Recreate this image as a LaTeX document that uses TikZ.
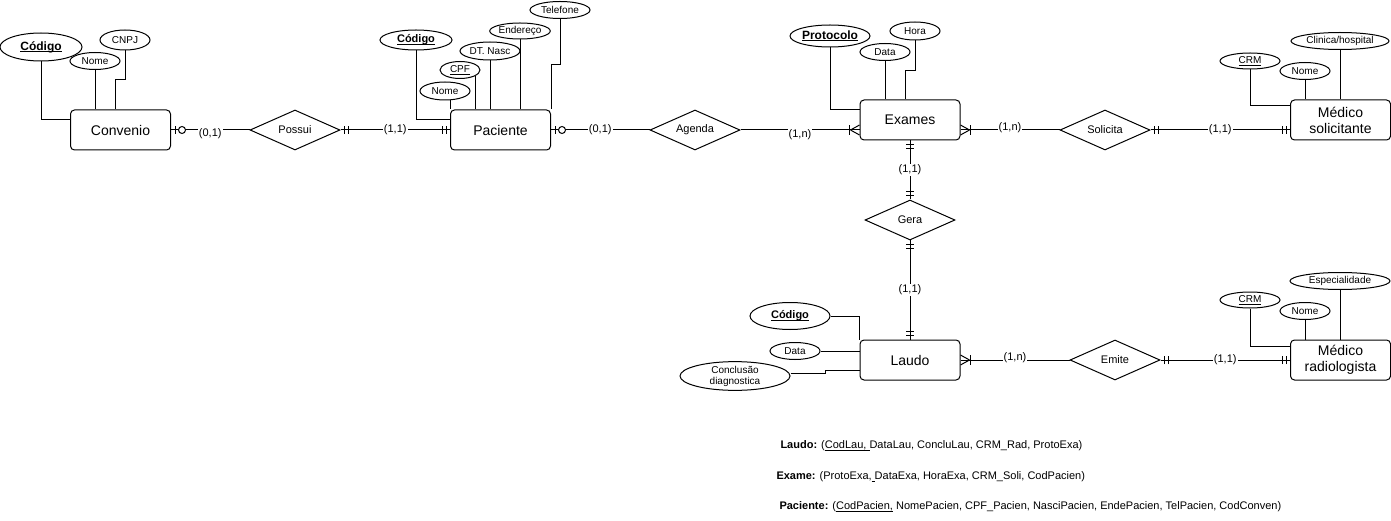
\documentclass[tikz,border=0pt]{standalone}
\usepackage{fontspec}
\setmainfont{Liberation Sans}
\usepackage{tikz}
\usetikzlibrary{shapes.geometric}
\usetikzlibrary{decorations.markings}
\newsavebox{\ulbox}
\newcommand{\undl}[1]{\sbox{\ulbox}{#1}\rlap{\rule[-1.6pt]{\wd\ulbox}{0.7pt}}\usebox{\ulbox}}
\tikzset{
%%%%%%%%%%  Node styles
entity/.style={draw, rectangle, rounded corners=4pt, minimum width=100pt,
               minimum height=40pt, align=center, inner sep=1pt,
               font=\fontsize{14}{16}\selectfont},
relation/.style={draw, diamond, aspect=2.25, minimum width=90pt,
                 minimum height=40pt, inner sep=0pt,
                 font=\fontsize{11}{13}\selectfont},
attribute/.style args={#1,#2}{draw, ellipse, fill=white, inner sep=0pt,
                 minimum width=#1pt, minimum height=#2pt, align=center,
                 font=\fontsize{10}{11}\selectfont},
key_attr/.style={font=\fontsize{#1}{14}\selectfont\bfseries},
key_attr/.default=12,
card/.style={fill=white, inner sep=1pt, font=\fontsize{11}{13}\selectfont},
tuple/.style={anchor=west, inner sep=0pt, font=\fontsize{11}{13}\selectfont},
%%%%%%% ER end markers
one_one_start/.style={postaction={decorate},
                 decoration={markings,
                    mark=at position 4pt with {\draw (0,-4pt) -- (0,4pt);},
                    mark=at position 8pt with {\draw (0,-4pt) -- (0,4pt);},
                 }},
one_one_end/.style={postaction={decorate,
                 decoration={markings,
                    mark=at position -4pt with {\draw (0,-4pt) -- (0,4pt);},
                    mark=at position -8pt with {\draw (0,-4pt) -- (0,4pt);},
                 }}},
zero_one_start/.style={postaction={decorate,
                 decoration={markings,
                    mark=at position 4pt with {\draw (0,-4pt) -- (0,4pt);},
                    mark=at position 11pt with {\draw[fill=white] (0,0) circle (3.5pt);},
                 }}},
%% crow foot, one or many
one_many_start/.style={postaction={decorate,
                 decoration={markings,
                    mark=at position 10pt with {\draw (0,-5pt) -- (0,5pt);
                       \draw (-1pt,0) -- (-10pt,5pt) (-1pt,0) -- (-10pt,-5pt);},
                 }}},
one_many_end/.style={postaction={decorate,
                 decoration={markings,
                    mark=at position -10pt with {\draw (0,-5pt) -- (0,5pt);
                       \draw (1pt,0) -- (10pt,5pt) (1pt,0) -- (10pt,-5pt);},
                 }}}
}

\begin{document}
\begin{tikzpicture}[x=1pt, y=-1pt, line width=1pt]
\useasboundingbox (0,0) rectangle (1391,521);

% entities
\node[entity] (conv) at (120.5,130) {Convenio};
\node[entity] (pac) at (500.5,130) {Paciente};
\node[entity] (exa) at (910,120) {Exames};
\node[entity] (med_sol) at (1340.5,120) {Médico\\solicitante};
\node[entity] (laudo) at (910,360) {Laudo};
\node[entity] (med_rad) at (1340.5,360) {Médico\\radiologista};

% relations
\node[relation] (possui) at (295,130) {Possui};
\node[relation] (agenda) at (695,130) {Agenda};
\node[relation] (solicita) at (1105,130) {Solicita};
\node[relation] (gera) at (910,220) {Gera};
\node[relation] (emite) at (1115,360) {Emite};

% attributes
\node[attribute={82,28}, key_attr] (conv_cod) at (41,47) {\undl{Código}};
\node[attribute={50,17}] (conv_nome) at (95,61) {Nome};
\node[attribute={50,20}] (conv_cnpj) at (125,40) {CNPJ};

\node[attribute={72,20}, key_attr=11] (pac_cod) at (416,40) {\undl{Código}};
\node[attribute={50,18}] (pac_nome) at (445,91) {Nome};
\node[attribute={40,17}] (pac_cpf) at (460,70) {\undl{CPF}};
\node[attribute={60,18}] (pac_dt) at (490,51) {DT. Nasc};
\node[attribute={60,16}] (pac_end) at (520,31) {Endereço};
\node[attribute={60,17}] (pac_tel) at (560,10) {Telefone};

\node[attribute={80,22}, key_attr] (exa_prot) at (830,36) {\undl{Protocolo}};
\node[attribute={50,17}] (exa_data) at (885,52) {Data};
\node[attribute={50,18}] (exa_hora) at (915,31) {Hora};

\node[attribute={60,16}] (sol_crm) at (1250,61) {\undl{CRM}};
\node[attribute={50,17}] (sol_nome) at (1305,71) {Nome};
\node[attribute={98,17}] (sol_clin) at (1340,41) {Clinica/hospital};

\node[attribute={60,16}] (rad_crm) at (1250,300) {\undl{CRM}};
\node[attribute={50,17}] (rad_nome) at (1305,311) {Nome};
\node[attribute={100,17}] (rad_esp) at (1340,281) {Especialidade};

\node[attribute={80,27}, key_attr=11] (lau_cod) at (790,316) {\undl{Código}};
\node[attribute={50,17}] (lau_data) at (795,351) {Data};
\node[attribute={110,28}] (lau_conc) at (735,376) {Conclusão\\diagnostica};

% attribute links
\draw (conv_cod.south) |- (conv.west |- 0,120);
\draw (conv_nome.south) -- (conv_nome.south |- conv.north);
\draw (conv_cnpj.south) |- (115,80) -- (conv.north -| 115,0);

\draw (pac_cod.south) |- (pac.west |- 0,120);
\draw (pac_nome.south -| pac.west) -- (pac.north west);
\draw (pac_cpf.-20) -- (pac_cpf.-20 |- pac.north);
\draw (pac_dt.south) -- (pac_dt.south |- pac.north);
\draw (pac_end.south) -- (pac_end.south |- pac.north);
\draw (pac_tel.south) |- (551,65) -- (pac.north -| 551,0);

\draw (exa_prot.south) |- (exa.west |- 0,110);
\draw (exa_data.south) -- (exa_data.south |- exa.north);
\draw (exa_hora.south) |- (905,71) -- (exa.north -| 905,0);

\draw (sol_crm.south) |- (med_sol.west |- 0,106);
\draw (sol_nome.south) -- (sol_nome.south |- med_sol.north);
\draw (sol_clin.south) -- (sol_clin.south |- med_sol.north);

\draw (rad_crm.south) |- (med_rad.west |- 0,346);
\draw (rad_nome.south) -- (rad_nome.south |- med_rad.north);
\draw (rad_esp.south) -- (rad_esp.south |- med_rad.north);

\draw (lau_cod.east) -| (laudo.north west);
\draw (lau_data.east) -- (lau_data.east -| laudo.west);
\draw ([yshift=3pt]lau_conc.east) -| (825,370) -- (laudo.west |- 0,370);

% relationships
\draw[zero_one_start] (conv.east) -- node[card, yshift=-4pt] {(0,1)} (possui.west);
\draw[one_one_start, one_one_end] (possui.east) -- node[card] {(1,1)} (pac.west);
\draw[zero_one_start] (pac.east) -- node[card] {(0,1)} (agenda.west);
\draw[one_many_end] (agenda.east) -- node[card, yshift=-5pt] {(1,n)} (exa.west |- agenda.east);
\draw[one_many_start] (exa.east |- solicita.west) -- node[card, yshift=2pt] {(1,n)} (solicita.west);
\draw[one_one_start, one_one_end] (solicita.east) -- node[card] {(1,1)} (med_sol.west |- solicita.east);
\draw[one_one_start, one_one_end] (exa.south) -- node[card] {(1,1)} (gera.north);
\draw[one_one_start, one_one_end] (gera.south) -- node[card] {(1,1)} (laudo.north);
\draw[one_many_start] (laudo.east) -- node[card, yshift=2pt] {(1,n)} (emite.west);
\draw[one_one_start, one_one_end] (emite.east) -- node[card] {(1,1)} (med_rad.west);

% relational schema
\node[tuple] (rel_laudo) at (780,446) {\textbf{Laudo:} (\undl{CodLau,\ }DataLau, ConcluLau, CRM\_Rad, ProtoExa)};
\node[tuple] (rel_exame) at (776,477) {\textbf{Exame:} (ProtoExa,\undl{\ }DataExa, HoraExa, CRM\_Soli, CodPacien)};
\node[tuple] (rel_paciente) at (779,507) {\textbf{Paciente:} (\undl{CodPacien,} NomePacien, CPF\_Pacien, NasciPacien, EndePacien, TelPacien, CodConven)};

\end{tikzpicture}
\end{document}
